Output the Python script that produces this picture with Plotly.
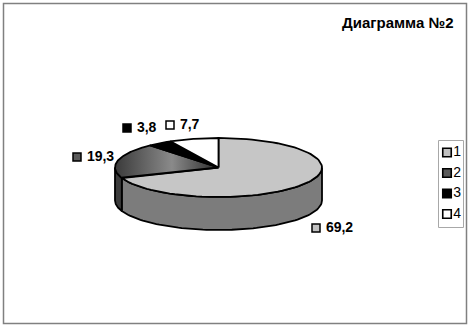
import numpy as np
import plotly.graph_objects as go

# ---- data ----
categories = ["1", "2", "3", "4"]
values = [69.2, 19.3, 3.8, 7.7]
value_labels = ["69,2", "19,3", "3,8", "7,7"]
title_text = "Диаграмма №2"

# ---- styles ----
top_colors = ["#c6c6c6", "#4a4a4a", "#000000", "#ffffff"]
side_colors = ["#7c7c7c", "#3c3c3c", "#000000", "#e0e0e0"]
legend_colors = ["#c0c0c0", "#5a5a5a", "#000000", "#ffffff"]

W, H = 470, 326
cx, cy = 218.5, 167.5
rx, ry = 103.5, 29.5
depth = 33
FONT = "Arial, Liberation Sans, sans-serif"

# label anchor positions (layout)
label_pos = [(316, 228), (77, 157), (127, 128), (170, 125)]
# legend layout
leg_box = (438, 140, 463, 227)
leg_x = 447
leg_y = [152.5, 173, 193.5, 214]

total = sum(values)
bounds = np.cumsum([0] + values) / total * 360.0


def arc(a, b, dy=0.0, n=80):
    t = np.radians(np.linspace(a, b, n))
    return cx + rx * np.sin(t), cy - ry * np.cos(t) + dy


fig = go.Figure()

# sides (front half only: 90..270 deg clockwise from top)
for i in range(len(values)):
    lo, hi = max(bounds[i], 90), min(bounds[i + 1], 270)
    if lo < hi:
        xt, yt = arc(lo, hi)
        xb, yb = arc(hi, lo, depth)
        xs = np.concatenate([xt, xb, xt[:1]])
        ys = np.concatenate([yt, yb, yt[:1]])
        fig.add_trace(go.Scatter(x=xs, y=ys, mode="lines", fill="toself",
                                 fillcolor=side_colors[i],
                                 line=dict(color="black", width=1.8),
                                 showlegend=False, hoverinfo="skip"))

# top faces
for i in range(len(values)):
    xa, ya = arc(bounds[i], bounds[i + 1])
    xs = np.concatenate([[cx], xa, [cx]])
    ys = np.concatenate([[cy], ya, [cy]])
    kw = {}
    if i == 1:
        kw["fillgradient"] = dict(type="horizontal",
                                  colorscale=[[0, "#3a3a3a"], [0.55, "#8a8a8a"], [1, "#2a2a2a"]])
    else:
        kw["fillcolor"] = top_colors[i]
    fig.add_trace(go.Scatter(x=xs, y=ys, mode="lines", fill="toself",
                             line=dict(color="black", width=1.8),
                             showlegend=False, hoverinfo="skip", **kw))

# data labels with colour keys
for i in range(len(values)):
    fig.add_trace(go.Scatter(
        x=[label_pos[i][0]], y=[label_pos[i][1]], mode="markers+text",
        marker=dict(symbol="square", size=8, color=legend_colors[i],
                    line=dict(color="black", width=1.5)),
        text=[" " + value_labels[i]], textposition="middle right",
        textfont=dict(family=FONT, size=14, color="black", weight="bold"),
        showlegend=False, hoverinfo="skip"))

# legend (drawn manually)
fig.add_shape(type="rect", xref="x", yref="y", x0=leg_box[0] + 0.5, y0=leg_box[1] + 0.5,
              x1=leg_box[2] + 0.5, y1=leg_box[3] + 0.5,
              line=dict(color="#a8a8a8", width=1), fillcolor="white", layer="below")
fig.add_trace(go.Scatter(
    x=[leg_x] * len(categories), y=leg_y, mode="markers+text",
    marker=dict(symbol="square", size=8.5, color=legend_colors,
                line=dict(color="black", width=1.6)),
    text=categories, textposition="middle right",
    textfont=dict(family=FONT, size=14, color="black"),
    showlegend=False, hoverinfo="skip"))

fig.add_annotation(x=456, y=22, xref="x", yref="y", text="<b>" + title_text + "</b>",
                   showarrow=False, xanchor="right", yanchor="middle",
                   font=dict(family=FONT, size=15, color="black"))

fig.add_shape(type="rect", xref="x", yref="y", x0=3.5, y0=3.5, x1=466.5, y1=323.5,
              line=dict(color="#808080", width=1.5), fillcolor="rgba(0,0,0,0)")

fig.update_layout(
    width=W, height=H, margin=dict(l=0, r=0, t=0, b=0),
    paper_bgcolor="white", plot_bgcolor="white",
    xaxis=dict(range=[0, W], visible=False, fixedrange=True),
    yaxis=dict(range=[H, 0], visible=False, fixedrange=True),
    showlegend=False,
)

fig.write_html("out.html",
               config={"displayModeBar": False, "staticPlot": True},
               post_script="document.body.style.margin='0px';document.body.style.overflow='hidden';")
